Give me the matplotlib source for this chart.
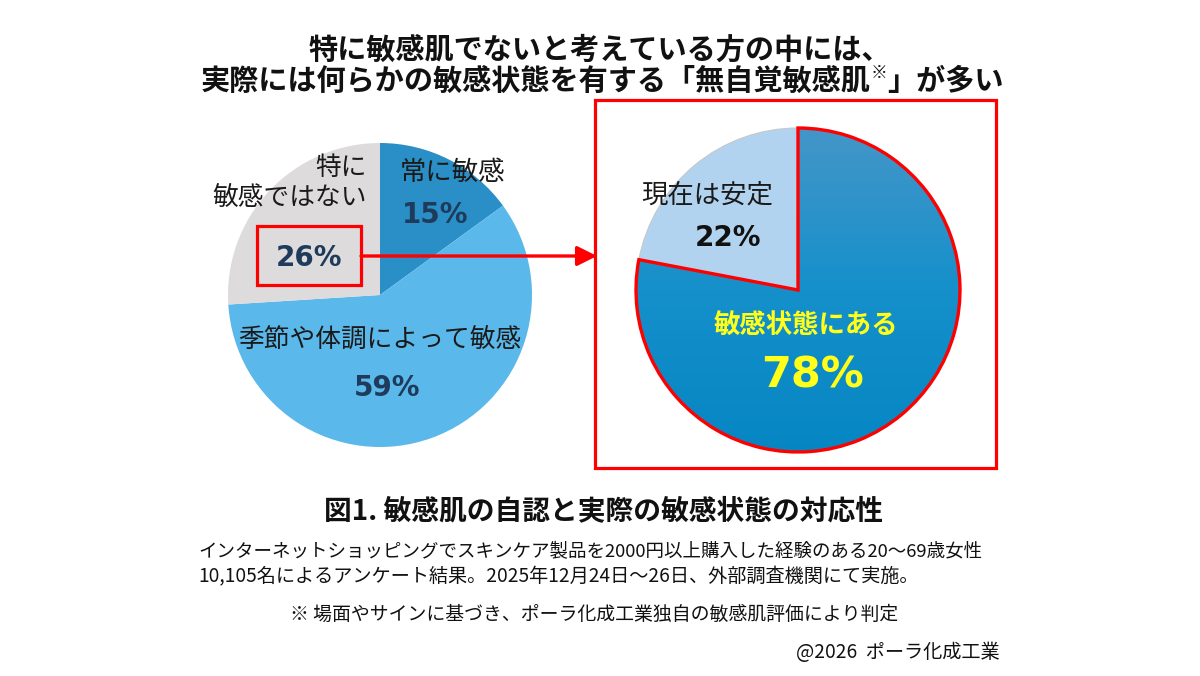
import numpy as np
import matplotlib.pyplot as plt
from matplotlib.patches import Rectangle, Wedge
from matplotlib.colors import LinearSegmentedColormap

plt.rcParams['font.family'] = ['Noto Sans CJK JP', 'DejaVu Sans']

W, H = 1200, 676

title_line1 = '特に敏感肌でないと考えている方の中には、'
title_line2 = ['実際には何らかの敏感状態を有する「無自覚敏感肌', '※', '」が多い']

left_labels = ['常に敏感', '季節や体調によって敏感', '特に\n敏感ではない']
left_values = [15, 59, 26]
left_colors = ['#2A8FC6', '#5BB8EA', '#DDDBDC']

right_labels = ['敏感状態にある', '現在は安定']
right_values = [78, 22]
right_colors = ['#0E8BC8', '#B2D3EF']

caption = '図1. 敏感肌の自認と実際の敏感状態の対応性'
notes = ['インターネットショッピングでスキンケア製品を2000円以上購入した経験のある20～69歳女性',
         '10,105名によるアンケート結果。2025年12月24日～26日、外部調査機関にて実施。']
footnote = '※ 場面やサインに基づき、ポーラ化成工業独自の敏感肌評価により判定'
credit = '@2026  ポーラ化成工業'


def Y(y):
    # image pixel row -> data y
    return H - y


fig = plt.figure(figsize=(12, 6.76), dpi=100)
ax = fig.add_axes([0, 0, 1, 1])

# left pie
lw_, _ = ax.pie(left_values, colors=left_colors, startangle=90, counterclock=False,
                center=(380, Y(295)), radius=152, wedgeprops=dict(linewidth=0))

# right pie
rw, _ = ax.pie(right_values, colors=right_colors, startangle=90, counterclock=False,
               center=(798, Y(290)), radius=162,
               wedgeprops=dict(linewidth=0.8, edgecolor='#C4C8CC'))
main = rw[0]
main.set_edgecolor('none')
cmap = LinearSegmentedColormap.from_list('g', ['#4596C8', '#1590CB', '#0586C3'])
grad = np.linspace(0, 1, 256).reshape(-1, 1)
cx, cy = main.center
im = ax.imshow(grad, extent=(cx - 165, cx + 165, cy - 165, cy + 165), origin='upper',
               cmap=cmap, aspect='auto', zorder=main.get_zorder() + 0.1)
im.set_clip_path(main)
ax.add_patch(Wedge(main.center, main.r, main.theta1, main.theta2, fill=False,
                   edgecolor='#FF0000', linewidth=2.4, zorder=main.get_zorder() + 0.2))

# labels, left pie
navy = '#1F3B5C'
ax.text(400, Y(173), left_labels[0], fontsize=19, ha='left', va='center', color='#1a1a1a')
ax.text(435, Y(215), f'{left_values[0]}%', fontsize=20, fontweight='bold', family='DejaVu Sans',
        ha='center', va='center', color=navy)
ax.text(380, Y(340), left_labels[1], fontsize=18.5, ha='center', va='center', color='#1a1a1a')
ax.text(387, Y(388), f'{left_values[1]}%', fontsize=20, fontweight='bold', family='DejaVu Sans',
        ha='center', va='center', color=navy)
ax.text(367, Y(183), left_labels[2], fontsize=18.5, ha='right', va='center', color='#1a1a1a',
        linespacing=1.2, multialignment='right')
ax.text(309, Y(258), f'{left_values[2]}%', fontsize=20, fontweight='bold', family='DejaVu Sans',
        ha='center', va='center', color=navy)

# labels, right pie
ax.text(806, Y(325), right_labels[0], fontsize=19, fontweight='bold', ha='center', va='center',
        color='#FFFF1A')
ax.text(812, Y(375), f'{right_values[0]}%', fontsize=31, fontweight='bold', family='DejaVu Sans',
        ha='center', va='center', color='#FFFF1A')
ax.text(707, Y(195), right_labels[1], fontsize=19, ha='center', va='center', color='#1a1a1a')
ax.text(728, Y(238), f'{right_values[1]}%', fontsize=20, fontweight='bold', family='DejaVu Sans',
        ha='center', va='center', color='#111111')

# boxes and arrow
ax.add_patch(Rectangle((257, Y(285)), 104, 59, fill=False, edgecolor='#FF0000', linewidth=2.3, zorder=5))
ax.add_patch(Rectangle((595, Y(468)), 401, 368, fill=False, edgecolor='#FF0000', linewidth=2.3, zorder=5))
ax.annotate('', xy=(597, Y(256)), xytext=(361, Y(256)),
            arrowprops=dict(arrowstyle='-|>', color='#FF0000', lw=2.4, mutation_scale=30,
                            shrinkA=0, shrinkB=0), zorder=5)

# title
ax.text(600, Y(50), title_line1, fontsize=21, fontweight='bold', ha='center', va='center', color='#111111')
r = fig.canvas.get_renderer()
parts = []
for s in title_line2:
    small = s == '※'
    t = ax.text(0, Y(81) + (8 if small else 0), s, fontsize=12 if small else 21,
                fontweight='bold', ha='left', va='center', color='#111111')
    parts.append(t)
widths = [t.get_window_extent(r).width for t in parts]
x = 602 - sum(widths) / 2
for t, w in zip(parts, widths):
    t.set_x(x)
    x += w

# caption and notes
ax.text(603, Y(511), caption, fontsize=20, fontweight='bold', ha='center', va='center', color='#111111')
ax.text(198, Y(551), notes[0], fontsize=13.3, ha='left', va='center', color='#111111')
ax.text(198, Y(577), notes[1], fontsize=13.8, ha='left', va='center', color='#111111')
ax.text(290, Y(614), footnote, fontsize=13.6, ha='left', va='center', color='#111111')
ax.text(1000, Y(652), credit, fontsize=13.8, ha='right', va='center', color='#111111')

ax.set_xlim(0, W)
ax.set_ylim(0, H)
ax.set_aspect('auto')
ax.axis('off')

fig.savefig('out.png', dpi=100, facecolor='white')
